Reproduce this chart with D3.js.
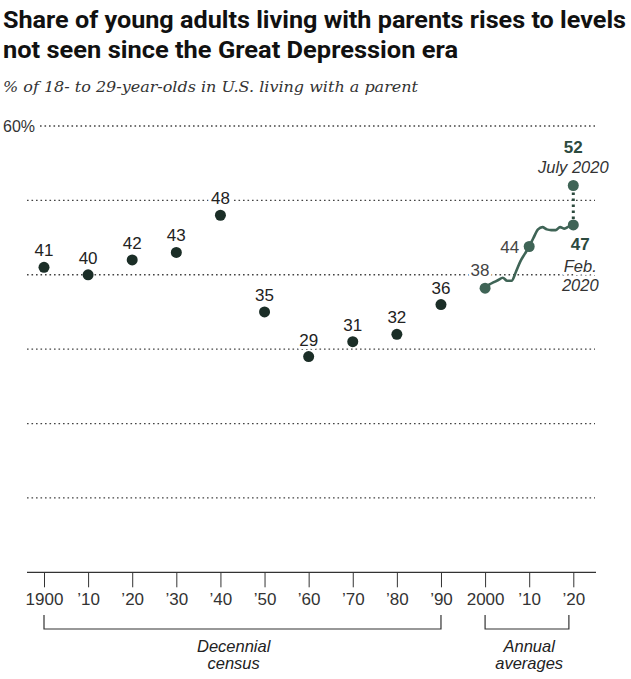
<!DOCTYPE html>
<html>
<head>
<meta charset="utf-8">
<script src="https://cdn.jsdelivr.net/npm/d3@7"></script>
<style>
  html, body { margin: 0; padding: 0; background: #fff; }
  svg { display: block; }
</style>
</head>
<body>
<div id="chart"></div>
<script>
// ---- Data ----
const decadeYears = [1900, 1910, 1920, 1930, 1940, 1950, 1960, 1970, 1980, 1990];
const decadeValues = [41, 40, 42, 43, 48, 35, 29, 31, 32, 36];

const annualYears = [2000, 2001, 2002, 2003, 2004, 2005, 2006, 2007, 2008, 2009, 2010,
                     2011, 2012, 2013, 2014, 2015, 2016, 2017, 2018, 2019, 2020];
const annualValues = [38.2, 38.7, 39.0, 39.3, 39.6, 39.2, 39.2, 40.4, 41.8, 42.8, 43.8,
                      45.0, 46.1, 46.4, 46.1, 46.0, 46.0, 46.4, 46.2, 46.5, 46.7];

const highlightYears = [2000, 2010];
const highlightLabels = ["38", "44"];
const feb2020 = { year: 2020, value: 46.7, label: "47", note: ["Feb.", "2020"] };
const july2020 = { year: 2020, value: 52, label: "52", note: ["July 2020"] };

const tickYears = [1900, 1910, 1920, 1930, 1940, 1950, 1960, 1970, 1980, 1990, 2000, 2010, 2020];
const tickLabels = ["1900", "\u201910", "\u201920", "\u201930", "\u201940", "\u201950", "\u201960",
                    "\u201970", "\u201980", "\u201990", "2000", "\u201910", "\u201920"];
const gridValues = [10, 20, 30, 40, 50, 60];

const titleLines = ["Share of young adults living with parents rises to levels",
                    "not seen since the Great Depression era"];
const subtitle = "% of 18- to 29-year-olds in U.S. living with a parent";
const brackets = [
  { from: 1900, to: 1990, lines: ["Decennial", "census"], labelX: 1943 },
  { from: 2000, to: 2019, lines: ["Annual", "averages"], labelX: 2010 }
];

// ---- Setup ----
const W = 631, H = 679;
const svg = d3.select("#chart").append("svg").attr("width", W).attr("height", H);

const x = d3.scaleLinear().domain([1900, 2020]).range([44, 573.3]);
const y = d3.scaleLinear().domain([0, 60]).range([572.3, 126]);

const darkDot = "#1b2e27";
const green = "#3f6456";
const greenDark = "#2c4a3e";
const sans = "'Liberation Sans', Arial, sans-serif";

// Title
svg.append("g").selectAll("text").data(titleLines).join("text")
  .attr("x", 3).attr("y", (d, i) => 28 + i * 30)
  .attr("font-family", "Roboto, 'Liberation Sans', sans-serif")
  .attr("font-weight", 700).attr("font-size", 24).attr("fill", "#111")
  .attr("textLength", (d, i) => i === 0 ? 623 : 455)
  .attr("lengthAdjust", "spacingAndGlyphs")
  .text(d => d);

svg.append("text").attr("x", 3).attr("y", 92)
  .attr("font-family", "'DejaVu Serif', 'Liberation Serif', serif")
  .attr("font-style", "italic").attr("font-size", 15.5).attr("fill", "#333")
  .attr("textLength", 415).attr("lengthAdjust", "spacingAndGlyphs")
  .text(subtitle);

// Gridlines
svg.append("g").selectAll("line").data(gridValues).join("line")
  .attr("x1", d => d === 60 ? 40 : 27).attr("x2", 595)
  .attr("y1", d => y(d)).attr("y2", d => y(d))
  .attr("stroke", "#444").attr("stroke-width", 1.3)
  .attr("stroke-dasharray", "1.6,2.9");

svg.append("text").attr("x", 3).attr("y", y(60) + 6)
  .attr("font-family", sans).attr("font-size", 16).attr("fill", "#333")
  .text("60%");

// Axis
svg.append("line").attr("x1", 27).attr("x2", 596)
  .attr("y1", y(0)).attr("y2", y(0)).attr("stroke", "#333").attr("stroke-width", 1.2);

const axis = d3.axisBottom(x).tickValues(tickYears)
  .tickFormat((d, i) => tickLabels[i]).tickSize(15).tickPadding(6);
const ax = svg.append("g").attr("transform", `translate(0,${y(0)})`).call(axis);
ax.select(".domain").remove();
ax.selectAll(".tick line").attr("stroke", "#333");
ax.selectAll(".tick text").attr("font-family", sans).attr("font-size", 17)
  .attr("fill", "#333");

// Brackets
const bg = svg.append("g");
brackets.forEach(b => {
  bg.append("path")
    .attr("d", `M${x(b.from)},615V629H${x(b.to)}V615`)
    .attr("fill", "none").attr("stroke", "#333").attr("stroke-width", 1.2);
  bg.selectAll(null).data(b.lines).join("text")
    .attr("x", x(b.labelX)).attr("y", (d, i) => 652 + i * 17)
    .attr("text-anchor", "middle").attr("font-family", sans)
    .attr("font-style", "italic").attr("font-size", 16.5).attr("fill", "#222")
    .text(d => d);
});

// Halo helper
function halo(sel) {
  return sel.attr("stroke", "#fff").attr("stroke-width", 6)
    .attr("stroke-linejoin", "round").attr("paint-order", "stroke");
}

// Decennial dots & labels
const decade = decadeYears.map((yr, i) => ({ yr, v: decadeValues[i] }));
halo(svg.append("g").selectAll("text").data(decade).join("text")
  .attr("x", d => x(d.yr)).attr("y", d => y(d.v) - 11)
  .attr("text-anchor", "middle").attr("font-family", sans)
  .attr("font-size", 17).attr("fill", "#222").text(d => d.v));
svg.append("g").selectAll("circle").data(decade).join("circle")
  .attr("cx", d => x(d.yr)).attr("cy", d => y(d.v)).attr("r", 5.5)
  .attr("fill", darkDot);

// Annual line
const annual = annualYears.map((yr, i) => ({ yr, v: annualValues[i] }));
svg.append("path").datum(annual)
  .attr("d", d3.line().x(d => x(d.yr)).y(d => y(d.v)).curve(d3.curveMonotoneX))
  .attr("fill", "none").attr("stroke", green).attr("stroke-width", 2.6)
  .attr("stroke-linejoin", "round");

// Dotted connector Feb -> July 2020
svg.append("line")
  .attr("x1", x(feb2020.year)).attr("x2", x(july2020.year))
  .attr("y1", y(feb2020.value)).attr("y2", y(july2020.value))
  .attr("stroke", greenDark).attr("stroke-width", 3).attr("stroke-dasharray", "2.5,3.5");

// Annual highlight dots
const hl = highlightYears.map((yr, i) => ({ yr, v: annualValues[annualYears.indexOf(yr)], label: highlightLabels[i] }));
svg.append("g").selectAll("circle").data(hl).join("circle")
  .attr("cx", d => x(d.yr)).attr("cy", d => y(d.v)).attr("r", 5.5).attr("fill", green);
halo(svg.append("text").attr("x", x(hl[0].yr) - 5).attr("y", y(hl[0].v) - 12)
  .attr("text-anchor", "middle").attr("font-family", sans).attr("font-size", 17)
  .attr("fill", "#444").text(hl[0].label));
halo(svg.append("text").attr("x", x(hl[1].yr) - 10).attr("y", y(hl[1].v) + 6)
  .attr("text-anchor", "end").attr("font-family", sans).attr("font-size", 17)
  .attr("fill", "#444").text(hl[1].label));

[feb2020, july2020].forEach(p => {
  svg.append("circle").attr("cx", x(p.year)).attr("cy", y(p.value)).attr("r", 5.5).attr("fill", green);
});

// July 2020 annotation
const jx = x(july2020.year), jy = y(july2020.value);
svg.append("text").attr("x", jx).attr("y", jy - 33).attr("text-anchor", "middle")
  .attr("font-family", sans).attr("font-weight", 700).attr("font-size", 17)
  .attr("fill", greenDark).text(july2020.label);
svg.append("text").attr("x", jx).attr("y", jy - 13).attr("text-anchor", "middle")
  .attr("font-family", sans).attr("font-style", "italic").attr("font-size", 16.5)
  .attr("fill", "#333").text(july2020.note[0]);

// Feb 2020 annotation
const fx = x(feb2020.year) + 7, fy = y(feb2020.value);
halo(svg.append("text").attr("x", fx).attr("y", fy + 25).attr("text-anchor", "middle")
  .attr("font-family", sans).attr("font-weight", 700).attr("font-size", 17)
  .attr("fill", greenDark).text(feb2020.label));
halo(svg.append("g").selectAll("text").data(feb2020.note).join("text")
  .attr("x", fx).attr("y", (d, i) => fy + 47 + i * 19).attr("text-anchor", "middle")
  .attr("font-family", sans).attr("font-style", "italic").attr("font-size", 16.5)
  .attr("fill", "#333").text(d => d));
</script>
</body>
</html>
